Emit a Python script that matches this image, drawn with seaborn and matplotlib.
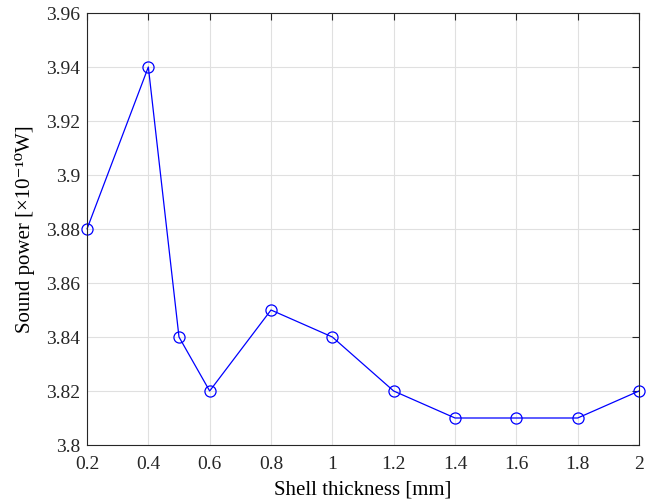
import matplotlib
matplotlib.use("Agg")
import matplotlib.pyplot as plt
import seaborn as sns
import pandas as pd

thickness = [0.2, 0.4, 0.5, 0.6, 0.8, 1.0, 1.2, 1.4, 1.6, 1.8, 2.0]
power = [3.88, 3.94, 3.84, 3.82, 3.85, 3.84, 3.82, 3.81, 3.81, 3.81, 3.82]
xticks = [0.2, 0.4, 0.6, 0.8, 1.0, 1.2, 1.4, 1.6, 1.8, 2.0]
xticklabels = ["0.2", "0.4", "0.6", "0.8", "1", "1.2", "1.4", "1.6", "1.8", "2"]
yticks = [3.8, 3.82, 3.84, 3.86, 3.88, 3.9, 3.92, 3.94, 3.96]
yticklabels = ["3.8", "3.82", "3.84", "3.86", "3.88", "3.9", "3.92", "3.94", "3.96"]

sns.set_style("white")
plt.rcParams['font.family'] = ['Liberation Serif', 'DejaVu Serif']
plt.rcParams['mathtext.fontset'] = 'stix'

df = pd.DataFrame({"x": thickness, "y": power})
fig = plt.figure(figsize=(6.47, 5.0), dpi=100)
ax = fig.add_axes([87/647, 55/500, (639-87)/647, (445-13)/500])
sns.lineplot(data=df, x="x", y="y", ax=ax, color="#0000ff", linewidth=0.9,
             marker="o", markersize=8, markerfacecolor="none",
             markeredgecolor="#0000ff", markeredgewidth=0.9, clip_on=False)
ax.set_xlim(0.2, 2.0)
ax.set_ylim(3.8, 3.96)
ax.set_xticks(xticks)
ax.set_xticklabels(xticklabels)
ax.set_yticks(yticks)
ax.set_yticklabels(yticklabels)
ax.grid(True, color="#e0e0e0", linewidth=0.8)
ax.set_axisbelow(True)
for s in ax.spines.values():
    s.set_color("#262626")
    s.set_linewidth(0.8)
ax.tick_params(direction="in", length=5, width=0.8, top=True, right=True,
               labelsize=14, colors="#262626")
ax.tick_params(axis="x", pad=8)
ax.tick_params(axis="y", pad=5)
for lab in ax.get_xticklabels() + ax.get_yticklabels():
    lab.set_color("#262626")
ax.set_xlabel("Shell thickness [mm]", fontsize=15, color="black", labelpad=5)
ax.set_ylabel("Sound power [×10⁻¹⁰W]", fontsize=15, color="black", labelpad=8)
fig.savefig("out.png", dpi=100)
